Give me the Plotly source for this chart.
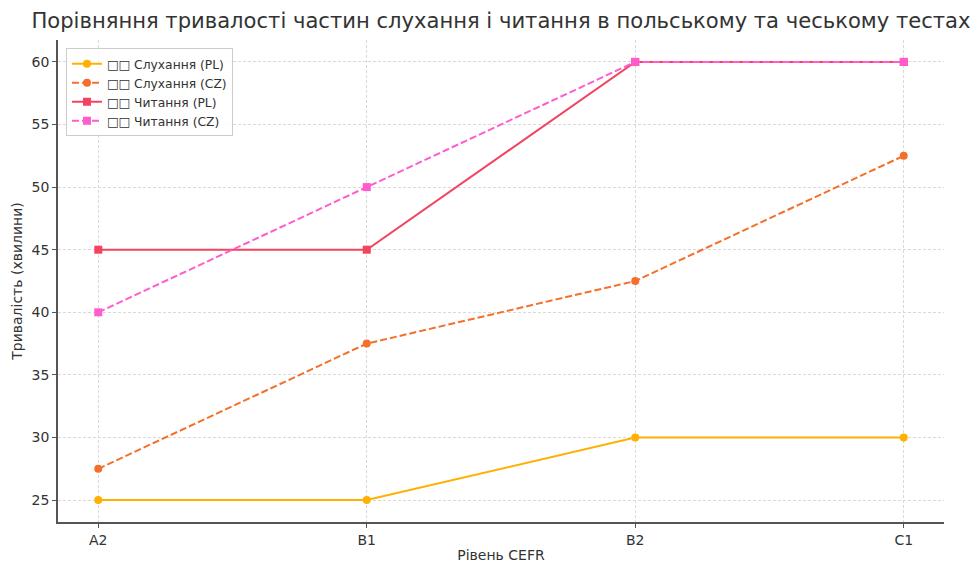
import plotly.graph_objects as go

levels = ["A2", "B1", "B2", "C1"]
listen_pl = [25, 25, 30, 30]
listen_cz = [27.5, 37.5, 42.5, 52.5]
read_pl = [45, 45, 60, 60]
read_cz = [40, 50, 60, 60]

names = ["□□ Слухання (PL)", "□□ Слухання (CZ)", "□□ Читання (PL)", "□□ Читання (CZ)"]
series = [listen_pl, listen_cz, read_pl, read_cz]
colors = ["#ffb000", "#f4702a", "#f2435f", "#ff5ccd"]
dashes = ["solid", "7px,3px", "solid", "7px,3px"]
symbols = ["circle", "circle", "square", "square"]

xs = list(range(len(levels)))
fig = go.Figure()
for n, s, c, d, sym in zip(names, series, colors, dashes, symbols):
    fig.add_trace(go.Scatter(
        x=xs, y=s, name=n, mode="lines+markers",
        line=dict(color=c, width=2, dash=d),
        marker=dict(color=c, size=8, symbol=sym),
    ))

font = "DejaVu Sans, sans-serif"
fig.update_layout(
    width=978, height=563,
    margin=dict(l=58, r=34, t=40, b=41, autoexpand=False),
    paper_bgcolor="white", plot_bgcolor="white",
    font=dict(family=font, size=14, color="#333333"),
    title=dict(text="Порівняння тривалості частин слухання і читання в польському та чеському тестах",
               x=0.5, xref="paper", xanchor="center", y=0.976, yanchor="top",
               font=dict(size=21.1, color="#333333")),
    showlegend=True,
    legend=dict(x=0.009, y=0.983, xanchor="left", yanchor="top",
                bgcolor="rgba(255,255,255,0.8)", bordercolor="#cccccc", borderwidth=1,
                font=dict(size=12.3, color="#333333"), tracegroupgap=0),
)
fig.update_xaxes(
    range=[-0.15, 3.15], tickmode="array", tickvals=xs, ticktext=levels,
    showgrid=True, gridcolor="#d9d9d9", griddash="3px,2px", gridwidth=1,
    showline=True, linecolor="#555555", linewidth=1.5,
    ticks="outside", ticklen=4, tickcolor="#555555",
    zeroline=False, automargin=False,
    title=dict(text="Рівень CEFR", font=dict(size=14), standoff=6),
    tickfont=dict(size=14),
)
fig.update_yaxes(
    range=[23.25, 61.75], tickmode="array", tickvals=[25, 30, 35, 40, 45, 50, 55, 60],
    showgrid=True, gridcolor="#d9d9d9", griddash="3px,2px", gridwidth=1,
    showline=True, linecolor="#555555", linewidth=1.5,
    ticks="outside", ticklen=4, tickcolor="#555555",
    zeroline=False, automargin=False,
    title=dict(text="Тривалість (хвилини)", font=dict(size=14), standoff=6),
    tickfont=dict(size=14),
)
fig.write_html("out.html", config={"displayModeBar": False},
               post_script="document.body.style.margin='0';")
